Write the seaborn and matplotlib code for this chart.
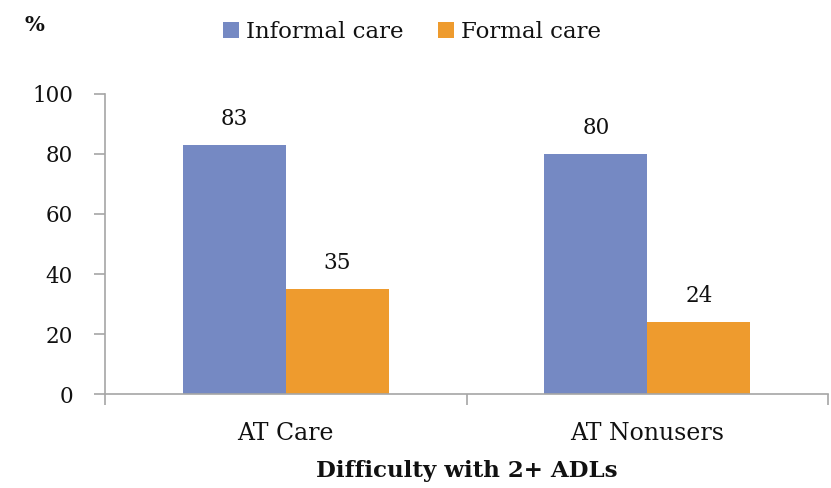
import matplotlib
matplotlib.use("Agg")
import matplotlib.pyplot as plt
import seaborn as sns
import pandas as pd
from matplotlib.ticker import FixedLocator

# Share of people with difficulty in 2+ ADLs receiving each type of care (%)
groups = ["AT Care", "AT Nonusers"]
care_types = ["Informal care", "Formal care"]
informal = [83, 80]
formal = [35, 24]
y_ticks = [0, 20, 40, 60, 80, 100]

df = pd.DataFrame({
    "group": groups * 2,
    "care": [care_types[0]] * len(groups) + [care_types[1]] * len(groups),
    "value": informal + formal,
})

sns.set_theme(style="white")
plt.rcParams["font.family"] = ["DejaVu Serif"]

palette = {"Informal care": "#7589C3", "Formal care": "#EE9B2E"}
axis_grey = "#A6A6A6"
ink = "#111111"

fig = plt.figure(figsize=(8.31, 4.88), dpi=100)
ax = fig.add_axes([0.1264, 0.1926, 0.8700, 0.6148])

sns.barplot(data=df, x="group", y="value", hue="care", hue_order=care_types,
            palette=palette, width=0.57, gap=0, saturation=1,
            edgecolor="none", ax=ax, legend=True)

for cont in ax.containers:
    ax.bar_label(cont, fmt="%g", padding=11, fontsize=15.5, color=ink)

ax.set_xlim(-0.5, 1.5)
ax.set_ylim(0, 100)
ax.set_yticks(y_ticks)
ax.set_yticklabels([str(t) for t in y_ticks])

# category boundaries carry the tick marks, labels sit in between
ax.xaxis.set_minor_locator(FixedLocator([-0.5, 0.5, 1.5]))
ax.tick_params(axis="x", which="major", bottom=False, length=0, labelsize=17,
               pad=20, labelcolor=ink)
ax.tick_params(axis="x", which="minor", bottom=True, length=8, width=1.2,
               color=axis_grey, direction="out")
ax.tick_params(axis="y", which="major", left=True, length=8, width=1.2, color=axis_grey,
               direction="out", labelsize=15.5, pad=15, labelcolor=ink)

for side in ["top", "right"]:
    ax.spines[side].set_visible(False)
for side in ["left", "bottom"]:
    ax.spines[side].set_color(axis_grey)
    ax.spines[side].set_linewidth(1.2)

ax.set_ylabel("")
ax.set_xlabel("Difficulty with 2+ ADLs", fontsize=16.5, fontweight="bold",
              labelpad=11, color=ink)

handles, labels = ax.get_legend_handles_labels()
ax.legend(handles, labels, loc="center", bbox_to_anchor=(0.425, 1.205),
          ncol=2, frameon=False, fontsize=16.5, handlelength=0.7, handleheight=0.7,
          handletextpad=0.3, columnspacing=1.5, labelcolor=ink)

fig.text(0.042, 0.948, "%", fontsize=15, fontweight="bold", ha="center",
         va="center", color=ink)

fig.savefig("out.png", dpi=100)
